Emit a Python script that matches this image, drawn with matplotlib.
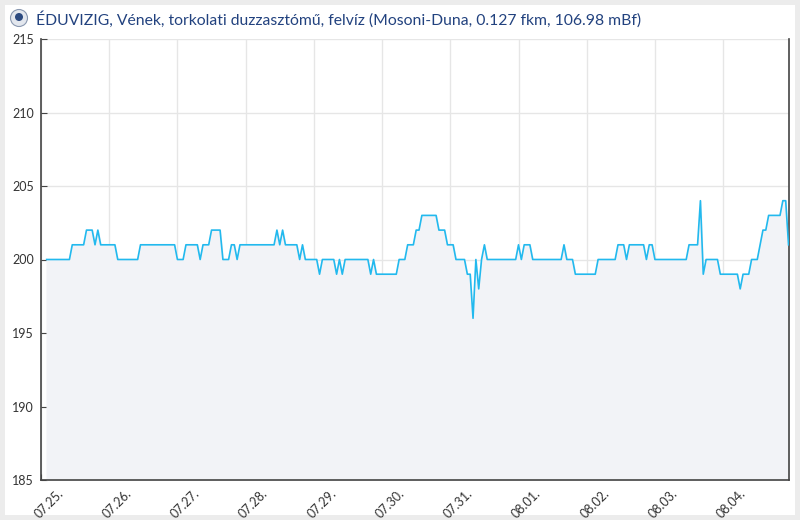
import pandas as pd
import matplotlib.pyplot as plt
import matplotlib.dates as mdates
from matplotlib.patches import Rectangle, Circle
from matplotlib.transforms import ScaledTranslation

title = "ÉDUVIZIG, Vének, torkolati duzzasztómű, felvíz (Mosoni-Duna, 0.127 fkm, 106.98 mBf)"

# hourly water level readings (cm), first reading at 07.25 02:00
day_0725 = [200, 200, 200, 200, 200, 200, 200, 200, 200, 201, 201,
            201, 201, 201, 202, 202, 202, 201, 202, 201, 201, 201]
day_0726 = [201, 201, 201, 200, 200, 200, 200, 200, 200, 200, 200, 201,
            201, 201, 201, 201, 201, 201, 201, 201, 201, 201, 201, 201]
day_0727 = [200, 200, 200, 201, 201, 201, 201, 201, 200, 201, 201, 201,
            202, 202, 202, 202, 200, 200, 200, 201, 201, 200, 201, 201]
day_0728 = [201, 201, 201, 201, 201, 201, 201, 201, 201, 201, 201, 202,
            201, 202, 201, 201, 201, 201, 201, 200, 201, 200, 200, 200]
day_0729 = [200, 200, 199, 200, 200, 200, 200, 200, 199, 200, 199, 200,
            200, 200, 200, 200, 200, 200, 200, 200, 199, 200, 199, 199]
day_0730 = [199, 199, 199, 199, 199, 199, 200, 200, 200, 201, 201, 201,
            202, 202, 203, 203, 203, 203, 203, 203, 202, 202, 202, 201]
day_0731 = [201, 201, 200, 200, 200, 200, 199, 199, 196, 200, 198, 200,
            201, 200, 200, 200, 200, 200, 200, 200, 200, 200, 200, 200]
day_0801 = [201, 200, 201, 201, 201, 200, 200, 200, 200, 200, 200, 200,
            200, 200, 200, 200, 201, 200, 200, 200, 199, 199, 199, 199]
day_0802 = [199, 199, 199, 199, 200, 200, 200, 200, 200, 200, 200, 201,
            201, 201, 200, 201, 201, 201, 201, 201, 201, 200, 201, 201]
day_0803 = [200, 200, 200, 200, 200, 200, 200, 200, 200, 200, 200, 200,
            201, 201, 201, 201, 204, 199, 200, 200, 200, 200, 200, 199]
day_0804 = [199, 199, 199, 199, 199, 199, 198, 199, 199, 199, 200, 200,
            200, 201, 202, 202, 203, 203, 203, 203, 203, 204, 204, 201]

levels = (day_0725 + day_0726 + day_0727 + day_0728 + day_0729 + day_0730
          + day_0731 + day_0801 + day_0802 + day_0803 + day_0804)
times = pd.date_range("2024-07-25 02:00", periods=len(levels), freq="h")

fig = plt.figure(figsize=(8, 5.2), dpi=100)
fig.patch.set_facecolor("#ececec")
panel = Rectangle((5 / 800, 5 / 520), 790 / 800, 510 / 520, transform=fig.transFigure,
                  facecolor="white", edgecolor="none", zorder=-10)
fig.patches.append(panel)

ax = fig.add_axes([41 / 800, 40 / 520, 748 / 800, 441 / 520])
ax.set_zorder(5)
ax.set_facecolor("white")

ax.fill_between(times, levels, 185, color="#f2f3f7", zorder=1)
ax.plot(times, levels, color="#22b9ee", linewidth=1.2, zorder=3)

ax.set_ylim(185, 215)
ax.set_yticks(range(185, 216, 5))
ax.set_xlim(pd.Timestamp("2024-07-25 00:00"), times[-1] + pd.Timedelta(minutes=10))
ax.xaxis.set_major_locator(mdates.DayLocator())
ax.xaxis.set_major_formatter(mdates.DateFormatter("%m.%d."))

ax.grid(True, color="#e6e6e6", linewidth=1, zorder=0)
ax.set_axisbelow(True)

for side in ["left", "bottom", "right"]:
    ax.spines[side].set_color("#444444")
    ax.spines[side].set_linewidth(1.2)
ax.spines["top"].set_visible(False)

ax.tick_params(axis="both", direction="in", length=4, color="#444444",
               labelcolor="#333333", labelsize=9)
ax.tick_params(axis="y", pad=5)
ax.tick_params(axis="x", pad=5)

for lbl in ax.get_xticklabels():
    lbl.set_rotation(45)
    lbl.set_ha("center")
    lbl.set_fontfamily("Lato")
    lbl.set_transform(lbl.get_transform() + ScaledTranslation(0.08, 0, fig.dpi_scale_trans))
for lbl in ax.get_yticklabels():
    lbl.set_fontfamily("Lato")

# small logo left of the title (sizes in inches so it stays round)
fig.patches.append(Circle((0.19, 5.2 - 0.18), 0.085, transform=fig.dpi_scale_trans,
                          facecolor="#e3e7ee", edgecolor="#8a98b0", linewidth=0.8, zorder=6))
fig.patches.append(Circle((0.19, 5.2 - 0.17), 0.04, transform=fig.dpi_scale_trans,
                          facecolor="#2c4a80", edgecolor="none", zorder=7))

fig.text(36 / 800, 1 - 19 / 520, title, fontsize=11.3, color="#22427f",
         fontfamily="Lato", va="center", ha="left", zorder=8)

plt.savefig("out.png", dpi=100, facecolor=fig.get_facecolor())
